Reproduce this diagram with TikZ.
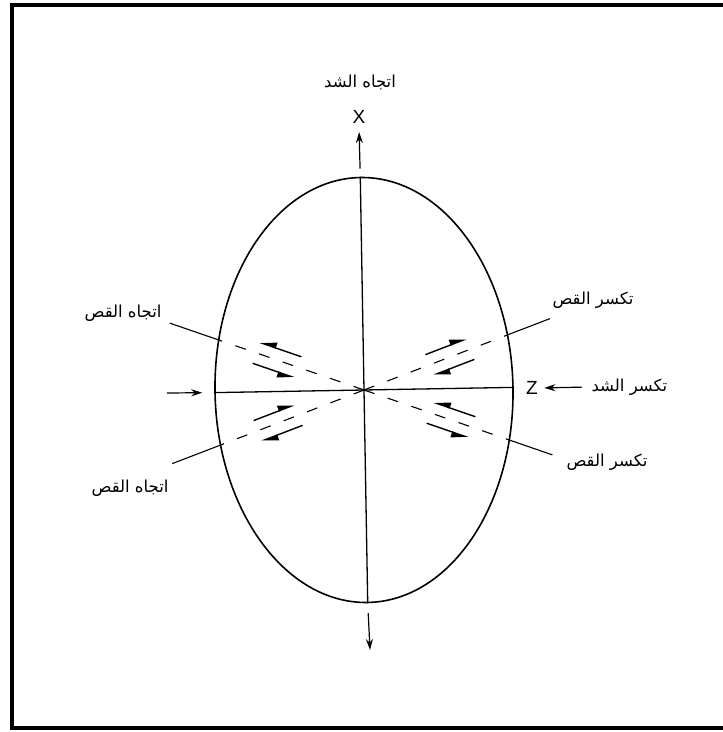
\documentclass[tikz,border=0pt]{standalone}
\usepackage{fontspec}
\setmainfont{Liberation Sans}
\newfontfamily\arabicfont[Script=Arabic]{DejaVu Sans}
\TeXXeTstate=1
\usetikzlibrary{shapes.geometric,arrows.meta,calc,positioning}

\tikzset{
  axisline/.style={line width=1.3pt},
  pullarrow/.style={line width=1.2pt,-{Stealth[length=11pt,width=7pt]}},
  planeline/.style={line width=1.1pt,dash pattern=on 11pt off 14pt},
  leaderline/.style={line width=1.1pt},
  shearleft/.style={line width=1.4pt,-{Triangle[harpoon,length=15pt,width=11pt]}},
  shearright/.style={line width=1.4pt,-{Triangle[harpoon,swap,length=15pt,width=11pt]}},
  arlabel/.style={font=\arabicfont\fontsize{16.5}{19}\selectfont},
  axlabel/.style={font=\fontsize{19}{21}\selectfont}
}

\begin{document}
\begin{tikzpicture}[x=1pt,y=1pt]
\useasboundingbox (0,0) rectangle (723,732);
\clip (0,0) rectangle (723,732);
\draw[line width=4.5pt] (12,4) rectangle (760,727);

% strain ellipse and its axes
\node[ellipse, draw, line width=1.6pt, rotate=1, minimum width=298pt, minimum height=425pt, inner sep=0pt] (egg) at (364,342) {};
\coordinate (O) at (egg.center);
\draw[axisline] (egg.north) -- (egg.south);
\draw[axisline] (egg.west) -- (egg.east);

% labels
\node[axlabel] (xlbl) at (359,615) {X};
\node[arlabel] (pulltitle) at (360,650) {\beginR اتجاه الشد\endR};
\node[axlabel] (zlbl) at (532,344) {Z};
\node[arlabel, anchor=west] (pulllbl) at (588,345) {\beginR تكسر الشد\endR};
\node[arlabel] (shearUL) at (123,419) {\beginR اتجاه القص\endR};
\node[arlabel] (shearLL) at (130,244) {\beginR اتجاه القص\endR};
\node[arlabel] (breakUR) at (593,432) {\beginR تكسر القص\endR};
\node[arlabel] (breakLR) at (607,270) {\beginR تكسر القص\endR};

% pull and push arrows
\coordinate (downtip) at (370,82);
\coordinate (lefttail) at (167,339);
\draw[pullarrow, shorten <=8pt, shorten >=5pt] (egg.north) -- (xlbl.south);
\draw[pullarrow, shorten <=10pt] (egg.south) -- (downtip);
\draw[pullarrow, shorten >=12pt] (lefttail) -- (egg.west);
\draw[pullarrow, shorten <=6pt, shorten >=3pt] (pulllbl.west) -- (zlbl.east);

% shear planes
\draw[planeline] (O) -- (egg.160);
\draw[planeline] (O) -- (egg.200);
\draw[planeline] (O) -- (egg.20);
\draw[planeline] (O) -- (egg.340);

% leaders
\draw[leaderline] (egg.160) -- ($(O)!1.33!(egg.160)$);
\draw[leaderline] (egg.200) -- ($(O)!1.33!(egg.200)$);
\draw[leaderline] (egg.20) -- ($(O)!1.29!(egg.20)$);
\draw[leaderline] (egg.340) -- ($(O)!1.29!(egg.340)$);

% sense of shear
\draw[shearright] ($(O)+(161:70)+(71:11)$) -- ($(O)+(161:114)+(71:11)$);
\draw[shearright] ($(O)+(161:114)+(251:11)$) -- ($(O)+(161:70)+(251:11)$);
\draw[shearleft] ($(O)+(21:70)+(111:11)$) -- ($(O)+(21:114)+(111:11)$);
\draw[shearleft] ($(O)+(21:114)+(-69:11)$) -- ($(O)+(21:70)+(-69:11)$);
\draw[shearleft] ($(O)+(201:70)+(291:11)$) -- ($(O)+(201:114)+(291:11)$);
\draw[shearleft] ($(O)+(201:114)+(111:11)$) -- ($(O)+(201:70)+(111:11)$);
\draw[shearright] ($(O)+(-19:70)+(-109:11)$) -- ($(O)+(-19:114)+(-109:11)$);
\draw[shearright] ($(O)+(-19:114)+(71:11)$) -- ($(O)+(-19:70)+(71:11)$);
\end{tikzpicture}
\end{document}
